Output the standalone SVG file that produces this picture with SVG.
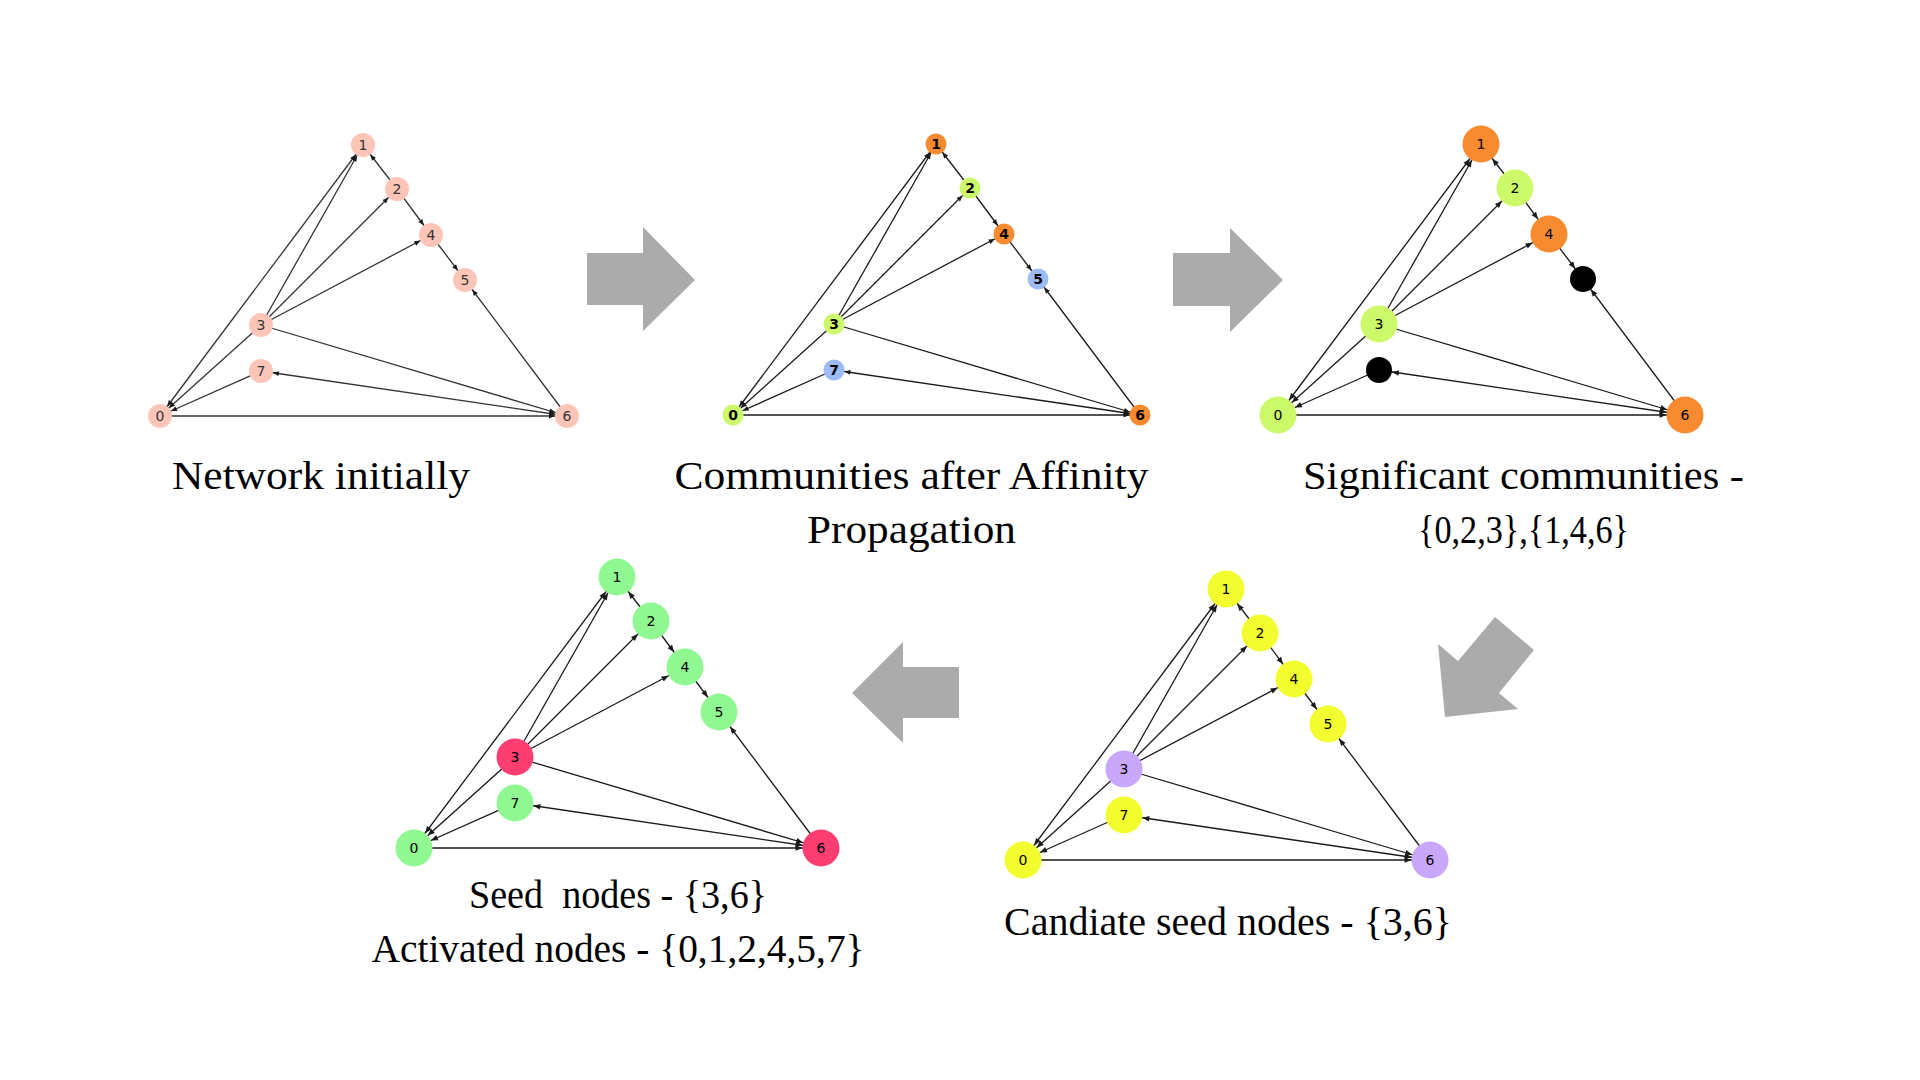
<svg xmlns="http://www.w3.org/2000/svg" width="1920" height="1080" viewBox="0 0 1920 1080">
<style>
.e{stroke:#1a1a1a;stroke-width:1.3;fill:none}
.g1 .e{stroke:#333}
.lbl{font-family:"DejaVu Sans",sans-serif;font-size:14px;text-anchor:middle;fill:#000}
.g1 .lbl{fill:#333}
.g2 .lbl{font-weight:bold}
.cap{font-family:"Liberation Serif","Times New Roman",serif;font-size:41px;text-anchor:middle;fill:#000;white-space:pre}
.big{fill:#ababab}
.pink{fill:#fdc5b8}.orange{fill:#f88b30}.lime{fill:#ccf96a}.blue{fill:#9cbbf8}.black{fill:#000}
.green{fill:#90f890}.red{fill:#fd3e71}.yellow{fill:#f2fc2e}.lav{fill:#c9a7fa}
</style>
<defs>
<marker id="a12" markerUnits="userSpaceOnUse" markerWidth="20" markerHeight="20" refX="12" refY="0" orient="auto-start-reverse" overflow="visible"><path d="M0,0 L-6,-2.5 L-6,2.5 z" fill="#1a1a1a"/></marker>
<marker id="a10" markerUnits="userSpaceOnUse" markerWidth="20" markerHeight="20" refX="10.5" refY="0" orient="auto-start-reverse" overflow="visible"><path d="M0,0 L-6,-2.5 L-6,2.5 z" fill="#1a1a1a"/></marker>
<marker id="a18" markerUnits="userSpaceOnUse" markerWidth="20" markerHeight="20" refX="18.5" refY="0" orient="auto-start-reverse" overflow="visible"><path d="M0,0 L-7,-2.8 L-7,2.8 z" fill="#1a1a1a"/></marker>
<marker id="a13" markerUnits="userSpaceOnUse" markerWidth="20" markerHeight="20" refX="13" refY="0" orient="auto-start-reverse" overflow="visible"><path d="M0,0 L-7,-2.8 L-7,2.8 z" fill="#1a1a1a"/></marker>
</defs>
<rect width="1920" height="1080" fill="#fff"/>

<!-- big arrows -->
<g id="flow-arrows">
<polygon class="big" points="587,253 643,253 643,227 695,280 643,331 643,305 587,305"/>
<polygon class="big" points="1173,253 1230,253 1230,228 1283,280 1230,332 1230,306 1173,306"/>
<polygon class="big" points="1495,617 1534,650 1499,693 1518,709 1445,717 1438,644 1458,661"/>
<polygon class="big" points="852,693 903,642 903,667 959,667 959,718 903,718 903,743"/>
</g>

<!-- Graph 1 -->
<g class="g1" transform="translate(160,416)">
<g id="g1-connectors">
<path class="e" d="M0,0 L203,-271" marker-start="url(#a12)" marker-end="url(#a12)"/>
<path class="e" d="M237,-227 L203,-271" marker-end="url(#a12)"/>
<path class="e" d="M237,-227 L271,-181" marker-end="url(#a12)"/>
<path class="e" d="M271,-181 L305,-136" marker-end="url(#a12)"/>
<path class="e" d="M407,0 L305,-136" marker-end="url(#a12)"/>
<path class="e" d="M101,-91 L203,-271" marker-end="url(#a12)"/>
<path class="e" d="M101,-91 L237,-227" marker-end="url(#a12)"/>
<path class="e" d="M101,-91 L271,-181" marker-end="url(#a12)"/>
<path class="e" d="M101,-91 L407,0" marker-end="url(#a12)"/>
<path class="e" d="M101,-91 L0,0" marker-end="url(#a12)"/>
<path class="e" d="M101,-45 L0,0" marker-end="url(#a12)"/>
<path class="e" d="M101,-45 L407,0" marker-start="url(#a12)" marker-end="url(#a12)"/>
<path class="e" d="M0,0 L407,0" marker-end="url(#a12)" style="stroke-width:1.6"/>
</g>
<g id="g1-n0"><circle cx="0" cy="0" r="12" class="pink"/><text class="lbl" x="0" y="5">0</text></g>
<g id="g1-n1"><circle cx="203" cy="-271" r="12" class="pink"/><text class="lbl" x="203" y="-266">1</text></g>
<g id="g1-n2"><circle cx="237" cy="-227" r="12" class="pink"/><text class="lbl" x="237" y="-222">2</text></g>
<g id="g1-n3"><circle cx="101" cy="-91" r="12" class="pink"/><text class="lbl" x="101" y="-86">3</text></g>
<g id="g1-n4"><circle cx="271" cy="-181" r="12" class="pink"/><text class="lbl" x="271" y="-176">4</text></g>
<g id="g1-n5"><circle cx="305" cy="-136" r="12" class="pink"/><text class="lbl" x="305" y="-131">5</text></g>
<g id="g1-n6"><circle cx="407" cy="0" r="12" class="pink"/><text class="lbl" x="407" y="5">6</text></g>
<g id="g1-n7"><circle cx="101" cy="-45" r="12" class="pink"/><text class="lbl" x="101" y="-40">7</text></g>
</g>

<!-- Graph 2 -->
<g class="g2" transform="translate(733,415)">
<g id="g2-connectors">
<path class="e" d="M0,0 L203,-271" marker-start="url(#a10)" marker-end="url(#a10)"/>
<path class="e" d="M237,-227 L203,-271" marker-end="url(#a10)"/>
<path class="e" d="M237,-227 L271,-181" marker-end="url(#a10)"/>
<path class="e" d="M271,-181 L305,-136" marker-end="url(#a10)"/>
<path class="e" d="M407,0 L305,-136" marker-end="url(#a10)"/>
<path class="e" d="M101,-91 L203,-271" marker-end="url(#a10)"/>
<path class="e" d="M101,-91 L237,-227" marker-end="url(#a10)"/>
<path class="e" d="M101,-91 L271,-181" marker-end="url(#a10)"/>
<path class="e" d="M101,-91 L407,0" marker-end="url(#a10)"/>
<path class="e" d="M101,-91 L0,0" marker-end="url(#a10)"/>
<path class="e" d="M101,-45 L0,0" marker-end="url(#a10)"/>
<path class="e" d="M101,-45 L407,0" marker-start="url(#a10)" marker-end="url(#a10)"/>
<path class="e" d="M0,0 L407,0" marker-end="url(#a10)" style="stroke-width:1.6"/>
</g>
<g id="g2-n0"><circle cx="0" cy="0" r="10.5" class="lime"/><text class="lbl" x="0" y="5">0</text></g>
<g id="g2-n1"><circle cx="203" cy="-271" r="10.5" class="orange"/><text class="lbl" x="203" y="-266">1</text></g>
<g id="g2-n2"><circle cx="237" cy="-227" r="10.5" class="lime"/><text class="lbl" x="237" y="-222">2</text></g>
<g id="g2-n3"><circle cx="101" cy="-91" r="10.5" class="lime"/><text class="lbl" x="101" y="-86">3</text></g>
<g id="g2-n4"><circle cx="271" cy="-181" r="10.5" class="orange"/><text class="lbl" x="271" y="-176">4</text></g>
<g id="g2-n5"><circle cx="305" cy="-136" r="10.5" class="blue"/><text class="lbl" x="305" y="-131">5</text></g>
<g id="g2-n6"><circle cx="407" cy="0" r="10.5" class="orange"/><text class="lbl" x="407" y="5">6</text></g>
<g id="g2-n7"><circle cx="101" cy="-45" r="10.5" class="blue"/><text class="lbl" x="101" y="-40">7</text></g>
</g>

<!-- Graph 3 -->
<g class="g3" transform="translate(1278,415)">
<g id="g3-connectors">
<path class="e" d="M0,0 L203,-271" marker-start="url(#a18)" marker-end="url(#a18)"/>
<path class="e" d="M237,-227 L203,-271" marker-end="url(#a18)"/>
<path class="e" d="M237,-227 L271,-181" marker-end="url(#a18)"/>
<path class="e" d="M271,-181 L305,-136" marker-end="url(#a13)"/>
<path class="e" d="M407,0 L305,-136" marker-end="url(#a13)"/>
<path class="e" d="M101,-91 L203,-271" marker-end="url(#a18)"/>
<path class="e" d="M101,-91 L237,-227" marker-end="url(#a18)"/>
<path class="e" d="M101,-91 L271,-181" marker-end="url(#a18)"/>
<path class="e" d="M101,-91 L407,0" marker-end="url(#a18)"/>
<path class="e" d="M101,-91 L0,0" marker-end="url(#a18)"/>
<path class="e" d="M101,-45 L0,0" marker-end="url(#a18)"/>
<path class="e" d="M101,-45 L407,0" marker-start="url(#a13)" marker-end="url(#a18)"/>
<path class="e" d="M0,0 L407,0" marker-end="url(#a18)" style="stroke-width:1.6"/>
</g>
<g id="g3-n0"><circle cx="0" cy="0" r="18.5" class="lime"/><text class="lbl" x="0" y="5">0</text></g>
<g id="g3-n1"><circle cx="203" cy="-271" r="18.5" class="orange"/><text class="lbl" x="203" y="-266">1</text></g>
<g id="g3-n2"><circle cx="237" cy="-227" r="18.5" class="lime"/><text class="lbl" x="237" y="-222">2</text></g>
<g id="g3-n3"><circle cx="101" cy="-91" r="18.5" class="lime"/><text class="lbl" x="101" y="-86">3</text></g>
<g id="g3-n4"><circle cx="271" cy="-181" r="18.5" class="orange"/><text class="lbl" x="271" y="-176">4</text></g>
<g id="g3-n5"><circle cx="305" cy="-136" r="13" class="black"/></g>
<g id="g3-n6"><circle cx="407" cy="0" r="18.5" class="orange"/><text class="lbl" x="407" y="5">6</text></g>
<g id="g3-n7"><circle cx="101" cy="-45" r="13" class="black"/></g>
</g>

<!-- Graph 4 -->
<g class="g4" transform="translate(414,848)">
<g id="g4-connectors">
<path class="e" d="M0,0 L203,-271" marker-start="url(#a18)" marker-end="url(#a18)"/>
<path class="e" d="M237,-227 L203,-271" marker-end="url(#a18)"/>
<path class="e" d="M237,-227 L271,-181" marker-end="url(#a18)"/>
<path class="e" d="M271,-181 L305,-136" marker-end="url(#a18)"/>
<path class="e" d="M407,0 L305,-136" marker-end="url(#a18)"/>
<path class="e" d="M101,-91 L203,-271" marker-end="url(#a18)"/>
<path class="e" d="M101,-91 L237,-227" marker-end="url(#a18)"/>
<path class="e" d="M101,-91 L271,-181" marker-end="url(#a18)"/>
<path class="e" d="M101,-91 L407,0" marker-end="url(#a18)"/>
<path class="e" d="M101,-91 L0,0" marker-end="url(#a18)"/>
<path class="e" d="M101,-45 L0,0" marker-end="url(#a18)"/>
<path class="e" d="M101,-45 L407,0" marker-start="url(#a18)" marker-end="url(#a18)"/>
<path class="e" d="M0,0 L407,0" marker-end="url(#a18)" style="stroke-width:1.6"/>
</g>
<g id="g4-n0"><circle cx="0" cy="0" r="18.5" class="green"/><text class="lbl" x="0" y="5">0</text></g>
<g id="g4-n1"><circle cx="203" cy="-271" r="18.5" class="green"/><text class="lbl" x="203" y="-266">1</text></g>
<g id="g4-n2"><circle cx="237" cy="-227" r="18.5" class="green"/><text class="lbl" x="237" y="-222">2</text></g>
<g id="g4-n3"><circle cx="101" cy="-91" r="18.5" class="red"/><text class="lbl" x="101" y="-86">3</text></g>
<g id="g4-n4"><circle cx="271" cy="-181" r="18.5" class="green"/><text class="lbl" x="271" y="-176">4</text></g>
<g id="g4-n5"><circle cx="305" cy="-136" r="18.5" class="green"/><text class="lbl" x="305" y="-131">5</text></g>
<g id="g4-n6"><circle cx="407" cy="0" r="18.5" class="red"/><text class="lbl" x="407" y="5">6</text></g>
<g id="g4-n7"><circle cx="101" cy="-45" r="18.5" class="green"/><text class="lbl" x="101" y="-40">7</text></g>
</g>

<!-- Graph 5 -->
<g class="g5" transform="translate(1023,860)">
<g id="g5-connectors">
<path class="e" d="M0,0 L203,-271" marker-start="url(#a18)" marker-end="url(#a18)"/>
<path class="e" d="M237,-227 L203,-271" marker-end="url(#a18)"/>
<path class="e" d="M237,-227 L271,-181" marker-end="url(#a18)"/>
<path class="e" d="M271,-181 L305,-136" marker-end="url(#a18)"/>
<path class="e" d="M407,0 L305,-136" marker-end="url(#a18)"/>
<path class="e" d="M101,-91 L203,-271" marker-end="url(#a18)"/>
<path class="e" d="M101,-91 L237,-227" marker-end="url(#a18)"/>
<path class="e" d="M101,-91 L271,-181" marker-end="url(#a18)"/>
<path class="e" d="M101,-91 L407,0" marker-end="url(#a18)"/>
<path class="e" d="M101,-91 L0,0" marker-end="url(#a18)"/>
<path class="e" d="M101,-45 L0,0" marker-end="url(#a18)"/>
<path class="e" d="M101,-45 L407,0" marker-start="url(#a18)" marker-end="url(#a18)"/>
<path class="e" d="M0,0 L407,0" marker-end="url(#a18)" style="stroke-width:1.6"/>
</g>
<g id="g5-n0"><circle cx="0" cy="0" r="18.5" class="yellow"/><text class="lbl" x="0" y="5">0</text></g>
<g id="g5-n1"><circle cx="203" cy="-271" r="18.5" class="yellow"/><text class="lbl" x="203" y="-266">1</text></g>
<g id="g5-n2"><circle cx="237" cy="-227" r="18.5" class="yellow"/><text class="lbl" x="237" y="-222">2</text></g>
<g id="g5-n3"><circle cx="101" cy="-91" r="18.5" class="lav"/><text class="lbl" x="101" y="-86">3</text></g>
<g id="g5-n4"><circle cx="271" cy="-181" r="18.5" class="yellow"/><text class="lbl" x="271" y="-176">4</text></g>
<g id="g5-n5"><circle cx="305" cy="-136" r="18.5" class="yellow"/><text class="lbl" x="305" y="-131">5</text></g>
<g id="g5-n6"><circle cx="407" cy="0" r="18.5" class="lav"/><text class="lbl" x="407" y="5">6</text></g>
<g id="g5-n7"><circle cx="101" cy="-45" r="18.5" class="yellow"/><text class="lbl" x="101" y="-40">7</text></g>
</g>

<!-- captions -->
<g id="captions">
<text class="cap" x="321" y="489" textLength="298" lengthAdjust="spacingAndGlyphs">Network initially</text>
<text class="cap" x="911.5" y="489" textLength="474" lengthAdjust="spacingAndGlyphs">Communities after Affinity</text>
<text class="cap" x="911.5" y="543" textLength="209" lengthAdjust="spacingAndGlyphs">Propagation</text>
<text class="cap" x="1523.5" y="489" textLength="441" lengthAdjust="spacingAndGlyphs">Significant communities -</text>
<text class="cap" x="1523.5" y="543" textLength="211" lengthAdjust="spacingAndGlyphs">{0,2,3},{1,4,6}</text>
<text class="cap" x="618" y="908" textLength="298" lengthAdjust="spacingAndGlyphs">Seed  nodes - {3,6}</text>
<text class="cap" x="618" y="962" textLength="493" lengthAdjust="spacingAndGlyphs">Activated nodes - {0,1,2,4,5,7}</text>
<text class="cap" x="1228" y="935" textLength="448" lengthAdjust="spacingAndGlyphs">Candiate seed nodes - {3,6}</text>
</g>
</svg>
